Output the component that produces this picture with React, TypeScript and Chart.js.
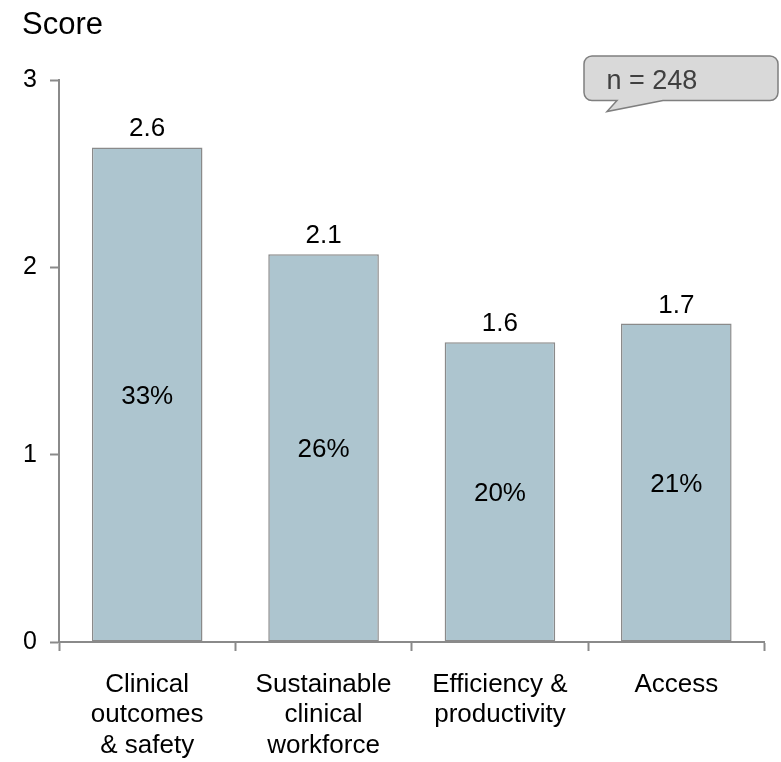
import React, { useEffect, useRef } from "react";
import { Chart, registerables } from "chart.js";

Chart.register(...registerables);

const categories: string[][] = [
  ["Clinical", "outcomes", "& safety"],
  ["Sustainable", "clinical", "workforce"],
  ["Efficiency &", "productivity"],
  ["Access"],
];
const scores: number[] = [2.64, 2.07, 1.6, 1.7];
const shares: number[] = [33, 26, 20, 21];
const sampleSize = 248;
const yTicks: number[] = [0, 1, 2, 3];
const axisTitle = "Score";

const FONT = "'Liberation Sans', Arial, sans-serif";
const AXIS_COLOR = "#8a8a8a";

const labelPlugin = {
  id: "barLabels",
  afterDatasetsDraw(chart: any) {
    const ctx = chart.ctx;
    const meta = chart.getDatasetMeta(0);
    ctx.save();
    ctx.fillStyle = "#000";
    ctx.textAlign = "center";
    ctx.textBaseline = "alphabetic";
    meta.data.forEach((bar: any, i: number) => {
      const v = scores[i];
      ctx.font = `26px ${FONT}`;
      ctx.fillText(v.toFixed(1), bar.x, bar.y - 11);
      const mid = (bar.y + bar.base) / 2;
      ctx.font = `26px ${FONT}`;
      ctx.fillText(`${shares[i]}%`, bar.x, mid + 0.358 * 26);
    });
    ctx.restore();
  },
  afterDraw(chart: any) {
    const ctx = chart.ctx;
    ctx.save();
    // axis title
    ctx.fillStyle = "#000";
    ctx.font = `31px ${FONT}`;
    ctx.textAlign = "left";
    ctx.textBaseline = "alphabetic";
    ctx.fillText(axisTitle, 22, 34);

    // callout
    const x0 = 584, y0 = 56, x1 = 778, y1 = 100.5, r = 8;
    ctx.beginPath();
    ctx.moveTo(x0 + r, y0);
    ctx.lineTo(x1 - r, y0);
    ctx.arcTo(x1, y0, x1, y0 + r, r);
    ctx.lineTo(x1, y1 - r);
    ctx.arcTo(x1, y1, x1 - r, y1, r);
    ctx.lineTo(663, y1);
    ctx.lineTo(607, 111.5);
    ctx.lineTo(617, y1);
    ctx.lineTo(x0 + r, y1);
    ctx.arcTo(x0, y1, x0, y1 - r, r);
    ctx.lineTo(x0, y0 + r);
    ctx.arcTo(x0, y0, x0 + r, y0, r);
    ctx.closePath();
    ctx.fillStyle = "#d9d9d9";
    ctx.fill();
    ctx.strokeStyle = "#7f7f7f";
    ctx.lineWidth = 1.5;
    ctx.stroke();
    ctx.fillStyle = "#404040";
    ctx.font = `27px ${FONT}`;
    ctx.fillText(`n = ${sampleSize}`, 606.5, 89);
    ctx.restore();
  },
};

export default function App() {
  const ref = useRef<HTMLCanvasElement | null>(null);
  useEffect(() => {
    if (!ref.current) return;
    const chart = new Chart(ref.current, {
      type: "bar",
      data: {
        labels: categories,
        datasets: [
          {
            data: scores,
            backgroundColor: "#adc5cf",
            borderColor: "#8a8a8a",
            borderWidth: 1.5,
            borderSkipped: false,
            categoryPercentage: 1,
            barPercentage: 0.627,
          },
        ],
      },
      options: {
        animation: false,
        responsive: false,
        events: [],
        layout: { padding: { top: 80, right: 16.5, left: 0, bottom: 0 } },
        plugins: {
          legend: { display: false },
          title: { display: false },
          tooltip: { enabled: false },
        },
        scales: {
          x: {
            type: "category",
            offset: true,
            grid: {
              display: true,
              offset: true,
              drawOnChartArea: false,
              drawTicks: true,
              tickLength: 9,
              tickWidth: 2,
              tickColor: AXIS_COLOR,
            },
            border: { display: true, color: AXIS_COLOR, width: 2 },
            ticks: {
              color: "#000",
              font: { family: FONT, size: 26, lineHeight: 1.18 },
              padding: 18,
              maxRotation: 0,
              autoSkip: false,
            },
            afterFit(scale: any) {
              scale.height = 120;
            },
          },
          y: {
            min: 0,
            max: 3,
            afterBuildTicks(scale: any) {
              scale.ticks = yTicks.map((v) => ({ value: v }));
            },
            grid: {
              display: true,
              drawOnChartArea: false,
              drawTicks: true,
              tickLength: 9,
              tickWidth: 2,
              tickColor: AXIS_COLOR,
            },
            border: { display: true, color: AXIS_COLOR, width: 2 },
            ticks: {
              color: "#000",
              font: { family: FONT, size: 25 },
              padding: 13,
            },
            afterFit(scale: any) {
              scale.width = 59;
            },
          },
        },
      },
      plugins: [labelPlugin],
    } as any);
    return () => chart.destroy();
  }, []);
  return (
    <div style={{ position: "absolute", left: 0, top: 0, width: 781, height: 762, background: "#fff" }}>
      <canvas ref={ref} width={781} height={762} style={{ display: "block" }} />
    </div>
  );
}
